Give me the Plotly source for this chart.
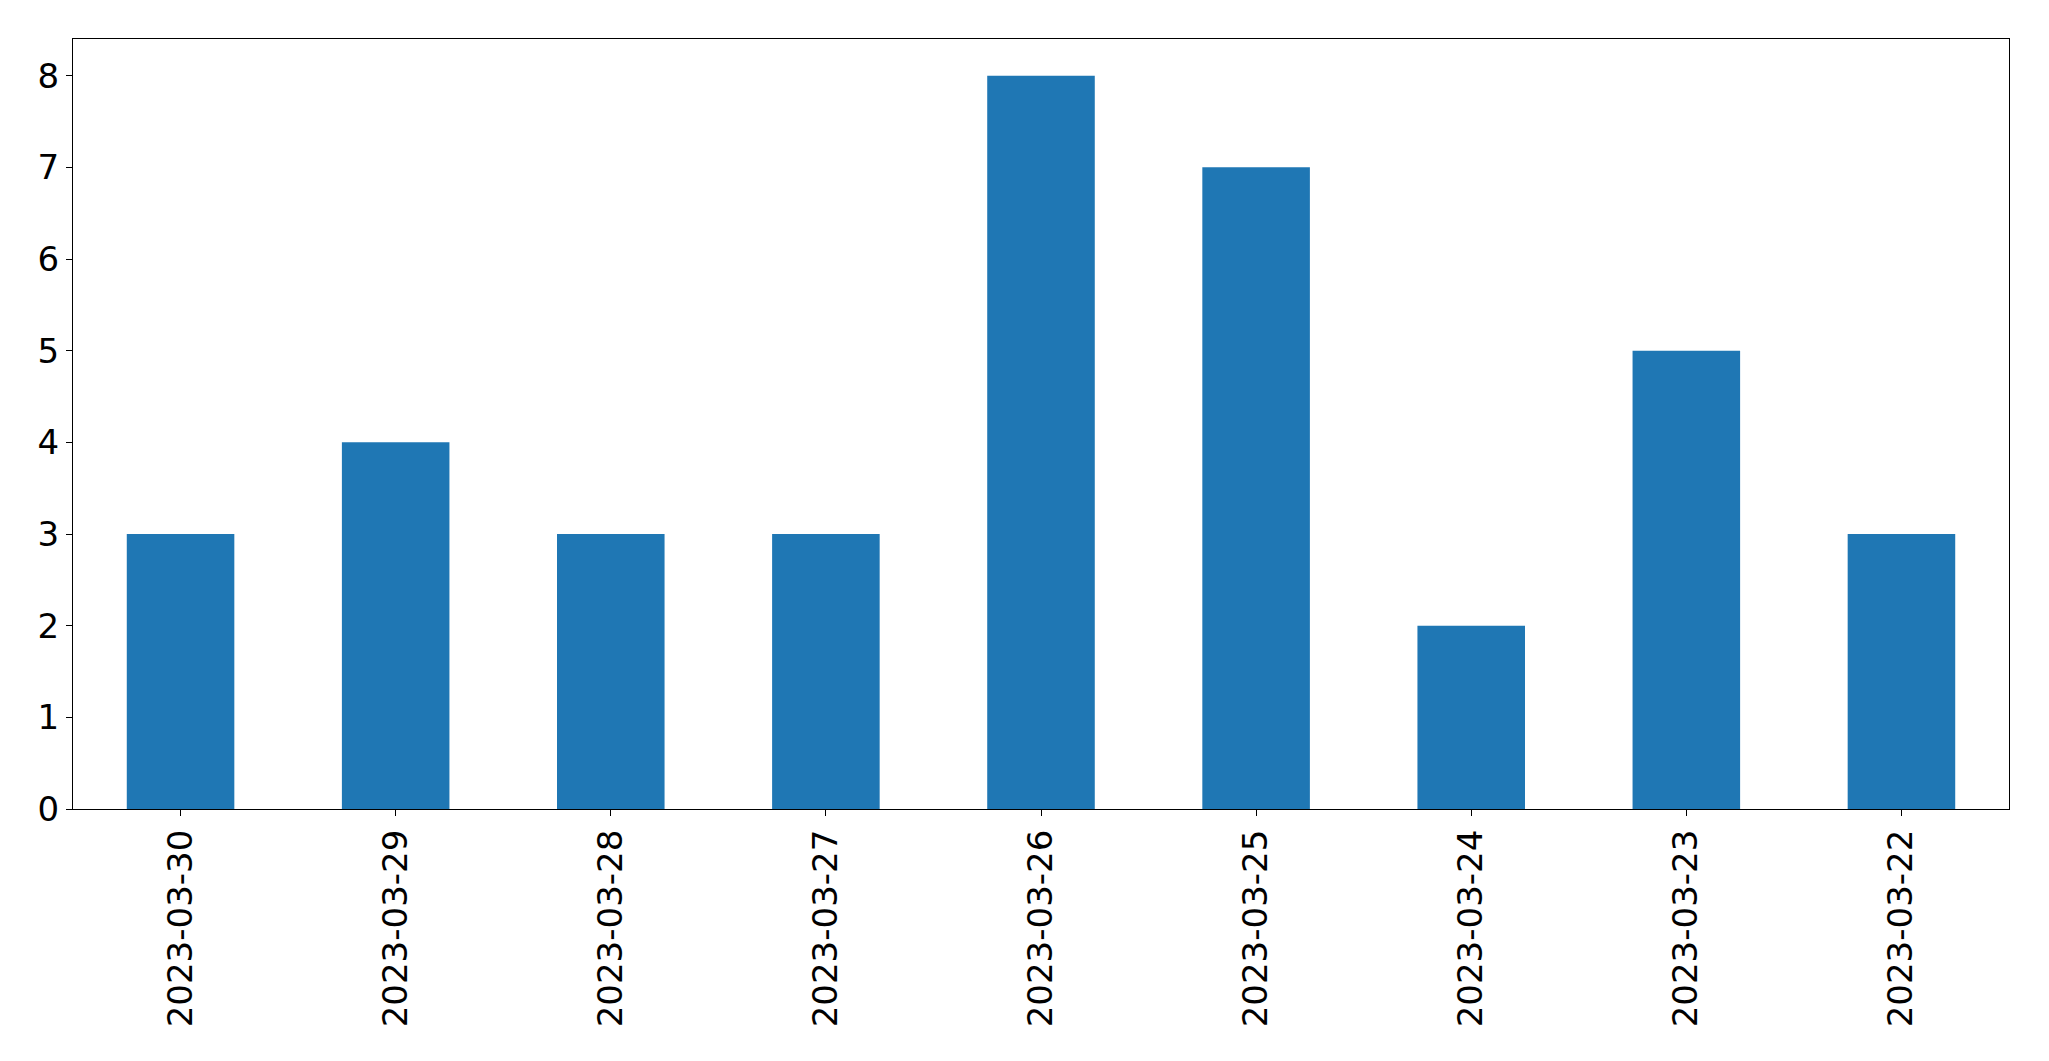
import plotly.graph_objects as go

dates = ["2023-03-30", "2023-03-29", "2023-03-28", "2023-03-27", "2023-03-26",
         "2023-03-25", "2023-03-24", "2023-03-23", "2023-03-22"]
counts = [3, 4, 3, 3, 8, 7, 2, 5, 3]
y_ticks = [0, 1, 2, 3, 4, 5, 6, 7, 8]

fig = go.Figure()
fig.add_trace(go.Bar(x=dates, y=counts, marker=dict(color="#1f77b4", line=dict(width=0)),
                     width=0.5))

fig.update_layout(
    width=2049, height=1061, autosize=False,
    margin=dict(l=73, r=40, t=39, b=252, pad=0),
    paper_bgcolor="white", plot_bgcolor="white",
    font=dict(family="DejaVu Sans", size=34, color="black"),
    showlegend=False,
)
fig.update_xaxes(
    type="category", range=[-0.5, 8.5], tickangle=-90,
    showline=True, linecolor="black", linewidth=1.2, mirror=True,
    ticks="outside", ticklen=6, tickwidth=1.2, tickcolor="black",
    showgrid=False, zeroline=False, tickfont=dict(size=34),
)
fig.update_yaxes(
    range=[0, 8.4], tickvals=y_ticks,
    showline=True, linecolor="black", linewidth=1.2, mirror=True,
    ticks="outside", ticklen=6, tickwidth=1.2, tickcolor="black",
    showgrid=False, zeroline=False, tickfont=dict(size=34),
)
fig.write_html("out.html", config={"displayModeBar": False},
               post_script="document.body.style.margin='0';document.body.style.overflow='hidden';")
